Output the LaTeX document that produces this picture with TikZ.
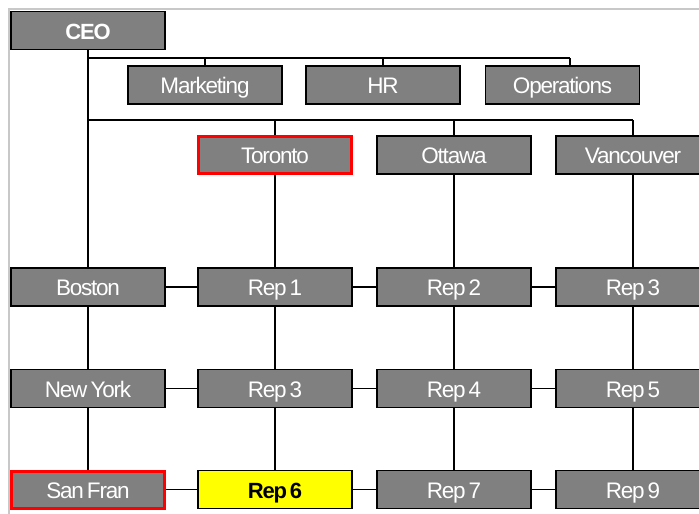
\documentclass[tikz,border=0pt]{standalone}
\usepackage{fontspec}
\setmainfont{Liberation Sans}
\newfontfamily\boxfont[LetterSpace=-5.4,WordSpace=0.6]{Liberation Sans}
\definecolor{boxgray}{RGB}{128,128,128}
\definecolor{framegray}{RGB}{200,200,200}
\definecolor{hiyellow}{RGB}{255,255,0}
\begin{document}
\begin{tikzpicture}[x=1pt,y=-1pt,
  box/.style={draw=black, line width=1.8pt, fill=boxgray, minimum width=154pt, minimum height=38pt,
    inner sep=0pt, text height=17.5pt, text depth=0pt, text=white, font=\boxfont\fontsize{22.5}{22.5}\selectfont},
  redbox/.style={box, draw=red, line width=3pt, minimum width=153pt, minimum height=37pt},
  yelbox/.style={box, fill=hiyellow, text=black, font=\boxfont\bfseries\fontsize{22}{22}\selectfont},
  conn/.style={draw=black, line width=1.6pt}]
\useasboundingbox (0,0) rectangle (699,514);
\clip (0,0) rectangle (699,514);
\fill[white] (0,0) rectangle (699,514);
\draw[framegray, line width=1.5pt] (9,514) -- (9,9) -- (699,9);
% bus coordinates
\coordinate (b1l) at (88,58);
\coordinate (b1r) at (570,58);
\coordinate (b2l) at (88,120);
\coordinate (b2r) at (633,120);
% boxes
\node[box, font=\boxfont\bfseries\fontsize{22}{22}\selectfont] (ceo) at (88,30.5) {CEO};
\node[box] (mkt) at (205,85) {Marketing};
\node[box] (hr) at (383,85) {HR};
\node[box] (ops) at (562.5,85) {Operations};
\node[redbox] (tor) at (275,155) {Toronto};
\node[box] (ott) at (454,155) {Ottawa};
\node[box] (van) at (633,155) {Vancouver};
\node[box] (bos) at (88,287) {Boston};
\node[box] (r1) at (275,287) {Rep 1};
\node[box] (r2) at (454,287) {Rep 2};
\node[box] (r3a) at (633,287) {Rep 3};
\node[box] (ny) at (88,388.5) {New York};
\node[box] (r3b) at (275,388.5) {Rep 3};
\node[box] (r4) at (454,388.5) {Rep 4};
\node[box] (r5) at (633,388.5) {Rep 5};
\node[redbox] (sf) at (88,489.5) {San Fran};
\node[yelbox] (r6) at (275,489.5) {Rep 6};
\node[box] (r7) at (454,489.5) {Rep 7};
\node[box] (r9) at (633,489.5) {Rep 9};
% connectors
\draw[conn] (ceo.south) -- (bos.north);
\draw[conn] (b1l) -- (b1r);
\draw[conn] (mkt.north |- b1l) -- (mkt.north);
\draw[conn] (hr.north |- b1l) -- (hr.north);
\draw[conn] (b1r) -- (b1r |- ops.north);
\draw[conn] (b2l) -- (b2r);
\draw[conn] (tor.north |- b2l) -- (tor.north);
\draw[conn] (ott.north |- b2l) -- (ott.north);
\draw[conn] (b2r) -- (van.north);
\draw[conn] (tor.south) -- (r1.north);
\draw[conn] (r1.south) -- (r3b.north);
\draw[conn] (r3b.south) -- (r6.north);
\draw[conn] (ott.south) -- (r2.north);
\draw[conn] (r2.south) -- (r4.north);
\draw[conn] (r4.south) -- (r7.north);
\draw[conn] (van.south) -- (r3a.north);
\draw[conn] (r3a.south) -- (r5.north);
\draw[conn] (r5.south) -- (r9.north);
\draw[conn] (bos.south) -- (ny.north);
\draw[conn] (ny.south) -- (sf.north);
\draw[conn] (bos.east) -- (r1.west);
\draw[conn] (r1.east) -- (r2.west);
\draw[conn] (r2.east) -- (r3a.west);
\draw[conn] (ny.east) -- (r3b.west);
\draw[conn] (r3b.east) -- (r4.west);
\draw[conn] (r4.east) -- (r5.west);
\draw[conn] (sf.east) -- (r6.west);
\draw[conn] (r6.east) -- (r7.west);
\draw[conn] (r7.east) -- (r9.west);
\end{tikzpicture}
\end{document}
